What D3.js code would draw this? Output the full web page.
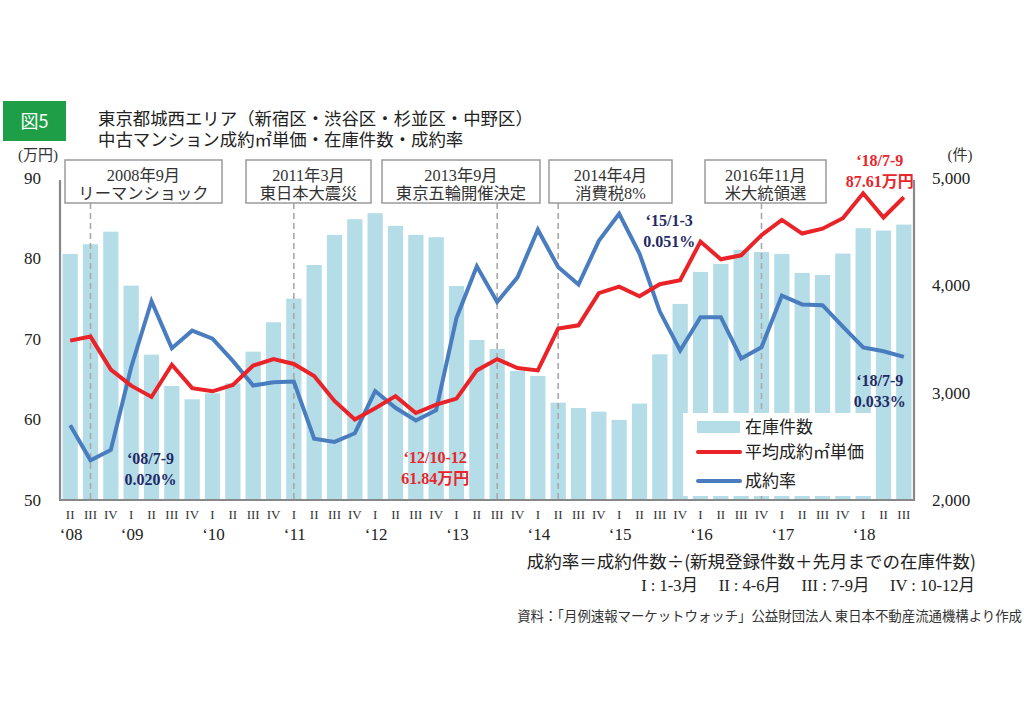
<!DOCTYPE html>
<html><head><meta charset="utf-8">
<script src="https://cdn.jsdelivr.net/npm/d3@7"></script>
<style>
html,body{margin:0;padding:0;background:#fff;}
svg{display:block;}
</style></head>
<body>
<svg id="chart" width="1024" height="723"></svg>
<script>
// ---- data ----
const quarters = ["II","III","IV","I","II","III","IV","I","II","III","IV","I","II","III","IV","I","II","III","IV","I","II","III","IV","I","II","III","IV","I","II","III","IV","I","II","III","IV","I","II","III","IV","I","II","III"];
const yearLabels = ["‘08","‘09","‘10","‘11","‘12","‘13","‘14","‘15","‘16","‘17","‘18"];
const yearIndex = [0,3,7,11,15,19,23,27,31,35,39];
const inventory = [4293,4383,4500,3997,3354,3062,2938,2994,3087,3382,3656,3876,4190,4470,4616,4672,4554,4470,4448,3994,3491,3407,3202,3156,2907,2857,2823,2746,2898,3358,3827,4125,4199,4330,4311,4293,4116,4097,4296,4532,4510,4566];
const price = [69.8,70.3,66.2,64.2,62.8,66.8,63.9,63.5,64.3,66.7,67.5,66.9,65.4,62.3,60.0,61.4,62.9,60.8,61.84,62.6,66.1,67.5,66.4,66.1,71.3,71.7,75.7,76.5,75.3,76.8,77.3,82.1,79.9,80.4,82.9,84.8,83.1,83.7,85.0,88.1,85.1,87.61];
const rate = [0.0244,0.020,0.0213,0.0317,0.0400,0.0341,0.0363,0.0353,0.0325,0.0294,0.0298,0.0299,0.0227,0.0223,0.0234,0.0287,0.0266,0.0250,0.0263,0.0379,0.0444,0.0399,0.0430,0.0490,0.0443,0.0421,0.0476,0.051,0.0460,0.0387,0.0338,0.0380,0.0380,0.0328,0.0342,0.0407,0.0396,0.0395,0.0368,0.0342,0.0337,0.033];
const leftTicks = [50,60,70,80,90];
const rightTicks = [2000,3000,4000,5000];
const events = [
  {i:1, l1:"2008年9月", l2:"リーマンショック", x0:65, x1:222},
  {i:11, l1:"2011年3月", l2:"東日本大震災", x0:246, x1:371},
  {i:21, l1:"2013年9月", l2:"東京五輪開催決定", x0:382, x1:540},
  {i:24, l1:"2014年4月", l2:"消費税8%", x0:549, x1:672},
  {i:34, l1:"2016年11月", l2:"米大統領選", x0:705, x1:826}
];
const notes = [
  {i:1, l1:"‘08/7-9", l2:"0.020%", color:"#1f2a66", dx:60, y:458},
  {i:18, l1:"‘12/10-12", l2:"61.84万円", color:"#e8262b", dx:-1, y:457},
  {i:27, l1:"‘15/1-3", l2:"0.051%", color:"#1f2a66", dx:50, y:220},
  {i:41, l1:"‘18/7-9", l2:"87.61万円", color:"#e8262b", dx:-24, y:160},
  {i:41, l1:"‘18/7-9", l2:"0.033%", color:"#1f2a66", dx:-24, y:380}
];

const SERIF = "'Liberation Serif','Times New Roman',serif";
const JSERIF = "'Liberation Serif','Noto Sans CJK JP',serif";
const GOTH = "'Noto Sans CJK JP','Noto Sans',sans-serif";

const svg = d3.select("#chart");
const L = 60, R = 914, T = 178, B = 500;
const idx = d3.range(quarters.length);
const x = d3.scaleBand().domain(idx).range([L, R]).paddingInner(0.25).paddingOuter(0.125);
const yL = d3.scaleLinear().domain([50, 90]).range([B, T]);
const yR = d3.scaleLinear().domain([2000, 5000]).range([B, T]);
const yRate = d3.scaleLinear().domain([0.015, 0.0555]).range([B, T]);
const cx = i => x(i) + x.bandwidth() / 2;

// bars
svg.append("g").selectAll("rect").data(inventory).join("rect")
  .attr("x", (d, i) => x(i)).attr("width", x.bandwidth())
  .attr("y", d => yR(d)).attr("height", d => B - yR(d))
  .attr("fill", "#b4dde7");

// event dashed lines + boxes
events.forEach(e => {
  svg.append("line").attr("x1", cx(e.i)).attr("x2", cx(e.i)).attr("y1", 203).attr("y2", B)
    .attr("stroke", "#a9a9a9").attr("stroke-width", 1.6).attr("stroke-dasharray", "6,4");
  svg.append("rect").attr("x", e.x0).attr("y", 160).attr("width", e.x1 - e.x0).attr("height", 43)
    .attr("fill", "#fff").attr("stroke", "#9a9a9a").attr("stroke-width", 1.5);
  const mx = (e.x0 + e.x1) / 2;
  const t = svg.append("text").attr("text-anchor", "middle")
    .attr("font-family", JSERIF).attr("font-size", 16.3).attr("fill", "#333");
  t.append("tspan").attr("x", mx).attr("y", 181).text(e.l1);
  t.append("tspan").attr("x", mx).attr("y", 198.5).text(e.l2);
});

// lines
const line = (scale) => d3.line().x((d, i) => cx(i)).y(d => scale(d)).curve(d3.curveLinear);
svg.append("path").datum(rate).attr("d", line(yRate)).attr("fill", "none")
  .attr("stroke", "#4a7dbf").attr("stroke-width", 4).attr("stroke-linejoin", "miter");
svg.append("path").datum(price).attr("d", line(yL)).attr("fill", "none")
  .attr("stroke", "#ea2329").attr("stroke-width", 4).attr("stroke-linejoin", "miter");

// frame axes
const axisColor = "#888";
svg.append("line").attr("x1", L).attr("x2", L).attr("y1", T + 2).attr("y2", B + 1).attr("stroke", axisColor).attr("stroke-width", 2.2);
svg.append("line").attr("x1", R).attr("x2", R).attr("y1", T + 2).attr("y2", B + 1).attr("stroke", axisColor).attr("stroke-width", 2.2);
svg.append("line").attr("x1", L - 1).attr("x2", R + 1).attr("y1", B).attr("y2", B).attr("stroke", axisColor).attr("stroke-width", 2.2);

// left axis labels
const gl = svg.append("g").attr("transform", `translate(${L},0)`)
  .call(d3.axisLeft(yL).tickValues(leftTicks).tickSize(0).tickPadding(19).tickFormat(d3.format("d")));
gl.select(".domain").remove();
gl.selectAll("text").attr("font-family", SERIF).attr("font-size", 17).attr("fill", "#222");

// right axis labels
const gr = svg.append("g").attr("transform", `translate(${R},0)`)
  .call(d3.axisRight(yR).tickValues(rightTicks).tickSize(0).tickPadding(18).tickFormat(d3.format(",")));
gr.select(".domain").remove();
gr.selectAll("text").attr("font-family", SERIF).attr("font-size", 17).attr("fill", "#222");

// bottom quarter labels
const gb = svg.append("g").attr("transform", `translate(0,${B})`)
  .call(d3.axisBottom(x).tickSize(0).tickPadding(10).tickFormat(i => quarters[i]));
gb.select(".domain").remove();
gb.selectAll("text").attr("font-family", SERIF).attr("font-size", 13).attr("fill", "#333");

// year labels
svg.append("g").selectAll("text").data(yearLabels).join("text")
  .attr("x", (d, k) => cx(yearIndex[k]) + 1).attr("y", 540).attr("text-anchor", "middle")
  .attr("font-family", SERIF).attr("font-size", 17).attr("fill", "#222").text(d => d);

// unit labels
svg.append("text").attr("x", 38).attr("y", 160).attr("text-anchor", "middle")
  .attr("font-family", JSERIF).attr("font-size", 15).attr("fill", "#333").text("(万円)");
svg.append("text").attr("x", 960).attr("y", 160).attr("text-anchor", "middle")
  .attr("font-family", JSERIF).attr("font-size", 15).attr("fill", "#333").text("(件)");

// title
svg.append("rect").attr("x", 3).attr("y", 101).attr("width", 63).attr("height", 40).attr("fill", "#1f9e48");
svg.append("text").attr("x", 34.5).attr("y", 128).attr("text-anchor", "middle")
  .attr("font-family", GOTH).attr("font-size", 18).attr("fill", "#fff").text("図5");
const title = svg.append("text").attr("font-family", GOTH).attr("font-size", 17.4).attr("fill", "#222");
title.append("tspan").attr("x", 98).attr("y", 125).text("東京都城西エリア（新宿区・渋谷区・杉並区・中野区）");
title.append("tspan").attr("x", 98).attr("y", 146).text("中古マンション成約㎡単価・在庫件数・成約率");

// annotations
notes.forEach(n => {
  const mx = cx(n.i) + n.dx;
  const t = svg.append("text").attr("text-anchor", "middle")
    .attr("font-family", JSERIF).attr("font-weight", "bold").attr("font-size", 16).attr("fill", n.color);
  t.append("tspan").attr("x", mx).attr("y", n.y + 6).text(n.l1);
  t.append("tspan").attr("x", mx).attr("y", n.y + 27).text(n.l2);
});

// legend
const lg = svg.append("g");
lg.append("rect").attr("x", 683).attr("y", 413).attr("width", 189).attr("height", 83).attr("fill", "#fff");
lg.append("rect").attr("x", 697).attr("y", 421).attr("width", 43).attr("height", 12).attr("fill", "#b4dde7");
lg.append("line").attr("x1", 698).attr("x2", 740).attr("y1", 452).attr("y2", 452).attr("stroke", "#ea2329").attr("stroke-width", 4).attr("stroke-linecap", "round");
lg.append("line").attr("x1", 698).attr("x2", 740).attr("y1", 481).attr("y2", 481).attr("stroke", "#4a7dbf").attr("stroke-width", 4).attr("stroke-linecap", "round");
[["在庫件数",427],["平均成約㎡単価",452],["成約率",481]].forEach(([t, yy]) => {
  lg.append("text").attr("x", 745).attr("y", yy + 6).attr("font-family", GOTH).attr("font-size", 17)
    .attr("fill", "#222").text(t);
});

// footnotes
svg.append("text").attr("x", 976).attr("y", 568).attr("text-anchor", "end").attr("font-family", GOTH)
  .attr("font-size", 17.5).attr("fill", "#222").text("成約率＝成約件数÷(新規登録件数＋先月までの在庫件数)");
svg.append("text").attr("x", 975).attr("y", 591).attr("text-anchor", "end").attr("font-family", JSERIF)
  .attr("font-size", 16.5).attr("fill", "#222")
  .text("I : 1-3月\u00a0\u00a0\u00a0\u00a0\u00a0II : 4-6月\u00a0\u00a0\u00a0\u00a0\u00a0III : 7-9月\u00a0\u00a0\u00a0\u00a0\u00a0IV : 10-12月");
svg.append("text").attr("x", 1022).attr("y", 621).attr("text-anchor", "end").attr("font-family", GOTH)
  .attr("font-size", 13.4).attr("fill", "#333").text("資料：「月例速報マーケットウォッチ」公益財団法人 東日本不動産流通機構より作成");
</script>
</body></html>
